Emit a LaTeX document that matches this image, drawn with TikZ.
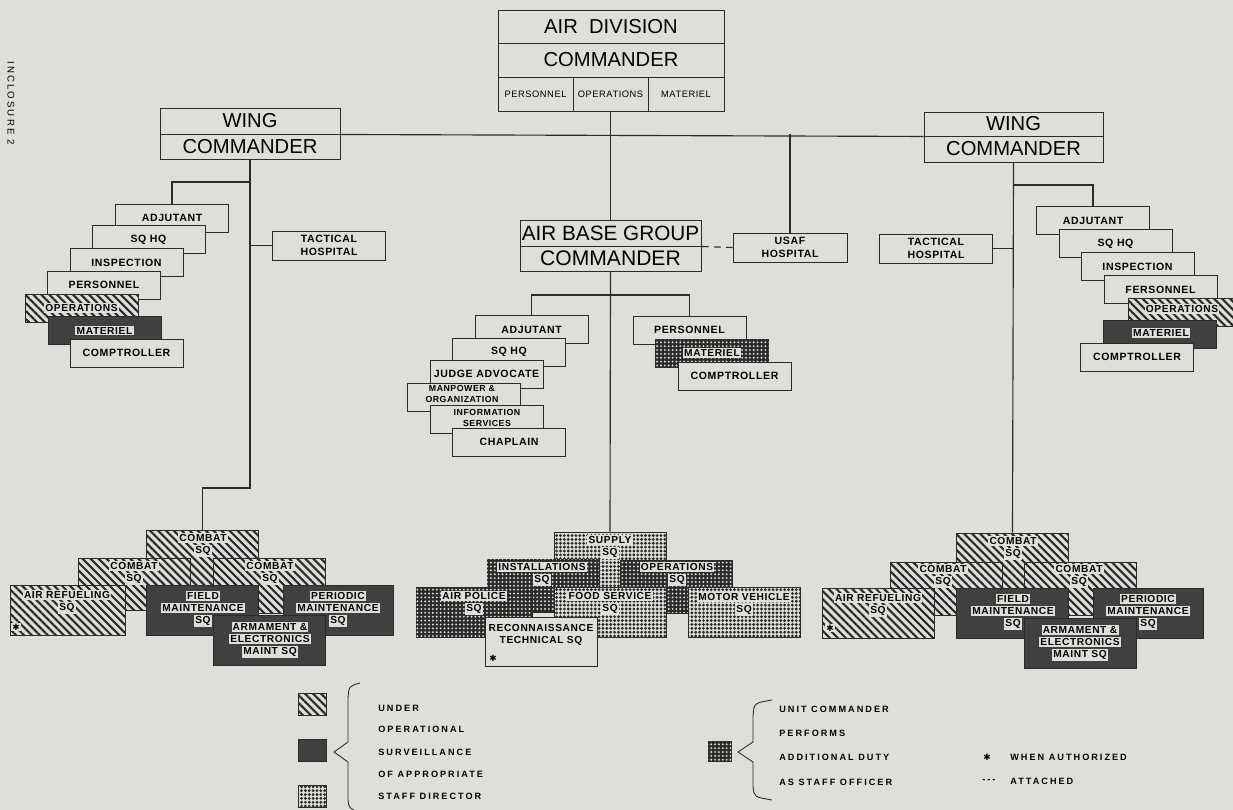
\documentclass[tikz,border=0pt]{standalone}
\usepackage{fontspec}
\setmainfont{Liberation Sans}
\newfontfamily\orgfont{Liberation Sans}[LetterSpace=6]
\newfontfamily\lgfont{Liberation Sans}[LetterSpace=22]
\newfontfamily\symfont{DejaVu Sans}
\usepackage{xcolor}
\usetikzlibrary{patterns.meta,positioning,calc}
\definecolor{paper}{HTML}{DEDEDB}
\definecolor{ink}{HTML}{2B2B2B}
\setlength{\fboxsep}{0.7pt}
\newcommand{\plate}[1]{\colorbox{paper}{#1}}
\tikzset{
  cell/.style={draw=ink, line width=0.55pt, fill=paper, inner sep=0pt, align=center,
    font=\orgfont\bfseries\fontsize{6}{7}\selectfont},
  staffbox/.style={cell, minimum width=2.26cm, minimum height=0.56cm},
  sqbox/.style={minimum width=2.24cm, minimum height=1cm},
  hatchbox/.style={cell, postaction={pattern={Lines[angle=-45,distance=3.2pt,line width=1.2pt]}, pattern color=ink}},
  darkbox/.style={cell, fill=black!75},
  dotbox/.style={cell, postaction={pattern={Dots[distance=2.2pt,radius=0.9pt]}, pattern color=ink}},
  darkdotbox/.style={cell, fill=ink, postaction={pattern={Dots[distance=2.2pt,radius=0.6pt]}, pattern color=paper}},
  sqtext/.style={align=center, inner sep=0pt, font=\orgfont\bfseries\fontsize{5.8}{6.9}\selectfont},
  smalltext/.style={align=center, inner sep=0pt, font=\orgfont\bfseries\fontsize{5}{6}\selectfont},
  subtext/.style={font=\orgfont\fontsize{5.3}{6}\selectfont},
  bigtext/.style={font=\fontsize{11.5}{12}\selectfont},
  startext/.style={inner sep=0pt, font=\symfont\fontsize{5}{5}\selectfont},
  legtext/.style={anchor=west, inner sep=0pt, font=\lgfont\bfseries\fontsize{5.2}{6}\selectfont},
  link/.style={draw=ink, line width=0.65pt}
}
\begin{document}
\begin{tikzpicture}[x=0.02cm, y=-0.02cm]
  \fill[paper] (0,0) rectangle (1233,810);
  \useasboundingbox (0,0) rectangle (1233,810);
  \node[rotate=-90, inner sep=0pt, font=\lgfont\fontsize{5.5}{6}\selectfont] (incl) at (11,103) {INCLOSURE 2};

  % top of the chart
  \node[cell, bigtext, minimum width=4.52cm, minimum height=0.66cm] (adivA) at (611,26.5) {AIR \ DIVISION};
  \node[cell, bigtext, minimum width=4.52cm, minimum height=0.68cm] (adivB) at (611,60) {COMMANDER};
  \node[cell, subtext, minimum width=1.5cm, minimum height=0.68cm] (adper) at (535.5,94) {PERSONNEL};
  \node[cell, subtext, minimum width=1.5cm, minimum height=0.68cm] (adops) at (610.5,94) {OPERATIONS};
  \node[cell, subtext, minimum width=1.52cm, minimum height=0.68cm] (admat) at (686,94) {MATERIEL};

  \node[cell, bigtext, minimum width=3.6cm, minimum height=0.52cm] (lwingA) at (250,121) {WING};
  \node[cell, bigtext, minimum width=3.6cm, minimum height=0.5cm] (lwingB) at (250,146.5) {COMMANDER};
  \node[cell, bigtext, minimum width=3.58cm, minimum height=0.48cm] (rwingA) at (1013.5,124) {WING};
  \node[cell, bigtext, minimum width=3.58cm, minimum height=0.52cm] (rwingB) at (1013.5,149) {COMMANDER};

  \node[cell, font=\fontsize{11.8}{13}\selectfont, minimum width=3.62cm, minimum height=0.52cm] (abgA) at (610.5,233) {AIR BASE GROUP};
  \node[cell, font=\fontsize{12}{13}\selectfont, minimum width=3.62cm, minimum height=0.5cm] (abgB) at (610.5,258.5) {COMMANDER};
  \node[staffbox, minimum width=2.28cm, minimum height=0.58cm] (usaf) at (790,247.5) {USAF\\HOSPITAL};

  % left wing staff
  \node[staffbox] (ladj) at (172,218) {ADJUTANT};
  \node[staffbox] (lsq) at (148.5,239.5) {SQ HQ};
  \node[staffbox] (linsp) at (126.5,262.5) {INSPECTION};
  \node[staffbox] (lpers) at (104,285) {PERSONNEL};
  \node[staffbox, hatchbox] (lops) at (81.5,308) {};
  \node[sqtext] (lopsT) at (lops.center) {\plate{OPERATIONS}};
  \node[staffbox, darkbox] (lmat) at (104.5,330.5) {};
  \node[sqtext] (lmatT) at (lmat.center) {\plate{MATERIEL}};
  \node[staffbox] (lcomp) at (126.5,353) {COMPTROLLER};
  \node[staffbox, minimum height=0.58cm] (ltac) at (329,245.5) {TACTICAL\\HOSPITAL};

  % air base group staff
  \node[staffbox] (cadj) at (531.5,329.5) {ADJUTANT};
  \node[staffbox] (csq) at (509,352) {SQ HQ};
  \node[staffbox] (cjudge) at (486.5,374) {JUDGE ADVOCATE};
  \node[staffbox] (cman) at (464,397) {};
  \node[smalltext] (cmanT) at (462,394) {MANPOWER \&\\ORGANIZATION};
  \node[staffbox] (cinfo) at (486.5,419.5) {};
  \node[smalltext] (cinfoT) at (487,418) {INFORMATION\\SERVICES};
  \node[staffbox] (cchap) at (509,442) {CHAPLAIN};
  \node[staffbox] (cpers) at (689.5,330) {PERSONNEL};
  \node[staffbox, darkdotbox] (cmat) at (712,353) {};
  \node[sqtext] (cmatT) at (cmat.center) {\plate{MATERIEL}};
  \node[staffbox] (ccomp) at (734.5,376) {COMPTROLLER};

  % right wing staff
  \node[staffbox, minimum height=0.58cm] (rtac) at (936,248.5) {TACTICAL\\HOSPITAL};
  \node[staffbox] (radj) at (1093,220.5) {ADJUTANT};
  \node[staffbox] (rsq) at (1115.5,243.5) {SQ HQ};
  \node[staffbox] (rinsp) at (1137.5,266.5) {INSPECTION};
  \node[staffbox] (rpers) at (1160.5,289.5) {FERSONNEL};
  \node[staffbox, hatchbox] (rops) at (1184.5,312) {};
  \node[sqtext] (ropsT) at (1182,309) {\plate{OPERATIONS}};
  \node[staffbox, darkbox] (rmat) at (1160,334.5) {};
  \node[sqtext] (rmatT) at (1161,333) {\plate{MATERIEL}};
  \node[staffbox] (rcomp) at (1137,357) {COMPTROLLER};

  % left squadrons
  \node[hatchbox, sqbox, minimum height=1.2cm] (lcmbA) at (202.5,560) {};
  \node[sqtext] (lcmbAT) at (203,545) {\plate{COMBAT}\\\plate{SQ}};
  \node[hatchbox, sqbox, minimum height=1.04cm] (lcmbB) at (134,584) {};
  \node[sqtext] (lcmbBT) at (134,573) {\plate{COMBAT}\\\plate{SQ}};
  \node[hatchbox, sqbox, minimum height=1.1cm] (lcmbC) at (269.5,585.5) {};
  \node[sqtext] (lcmbCT) at (270,573) {\plate{COMBAT}\\\plate{SQ}};
  \node[hatchbox, sqbox, minimum width=2.3cm] (lref) at (67.5,610) {};
  \node[sqtext] (lrefT) at (67,602) {\plate{AIR REFUELING}\\\plate{SQ}};
  \node[startext] (lrefS) at (16,627) {\plate{✱}};
  \node[darkbox, sqbox] (lfld) at (202.5,610) {};
  \node[sqtext] (lfldT) at (203,609) {\plate{FIELD}\\\plate{MAINTENANCE}\\\plate{SQ}};
  \node[darkbox, sqbox, minimum width=2.2cm] (lper) at (338,610) {};
  \node[sqtext] (lperT) at (338,609) {\plate{PERIODIC}\\\plate{MAINTENANCE}\\\plate{SQ}};
  \node[darkbox, sqbox] (larm) at (269.5,640) {};
  \node[sqtext] (larmT) at (270,640) {\plate{ARMAMENT \&}\\\plate{ELECTRONICS}\\\plate{MAINT SQ}};

  % air base squadrons
  \node[dotbox, sqbox, minimum height=1.16cm] (supA) at (610,561) {};
  \node[sqtext] (supT) at (610,547) {\plate{SUPPLY}\\\plate{SQ}};
  \node[darkdotbox, sqbox, minimum height=1.06cm] (inst) at (543,585.5) {};
  \node[sqtext] (instT) at (542,574) {\plate{INSTALLATIONS}\\\plate{SQ}};
  \node[darkdotbox, sqbox, minimum height=1.06cm] (cops) at (676.5,586.5) {};
  \node[sqtext] (copsT) at (677,574) {\plate{OPERATIONS}\\\plate{SQ}};
  \node[darkdotbox, sqbox, minimum width=2.32cm] (apol) at (474,612) {};
  \node[sqtext] (apolT) at (474,603) {\plate{AIR POLICE}\\\plate{SQ}};
  \node[dotbox, sqbox] (food) at (610,612) {};
  \node[sqtext] (foodT) at (610,603) {\plate{FOOD SERVICE}\\\plate{SQ}};
  \node[dotbox, sqbox] (motor) at (744,612) {};
  \node[sqtext] (motorT) at (744,604) {\plate{MOTOR VEHICLE}\\\plate{SQ}};
  \node[cell, sqbox, minimum height=0.98cm] (recon) at (541.5,641.5) {};
  \node[sqtext] (reconT) at (541,635) {RECONNAISSANCE\\TECHNICAL SQ};
  \node[startext] (reconS) at (493,658) {✱};

  % right squadrons
  \node[hatchbox, sqbox, minimum height=1.18cm] (rcmbA) at (1012.5,562.5) {};
  \node[sqtext] (rcmbAT) at (1013,548) {\plate{COMBAT}\\\plate{SQ}};
  \node[hatchbox, sqbox, minimum height=1.06cm] (rcmbB) at (946,588.5) {};
  \node[sqtext] (rcmbBT) at (943,576) {\plate{COMBAT}\\\plate{SQ}};
  \node[hatchbox, sqbox, minimum height=1.06cm] (rcmbC) at (1080,588.5) {};
  \node[sqtext] (rcmbCT) at (1079,576) {\plate{COMBAT}\\\plate{SQ}};
  \node[hatchbox, sqbox] (rref) at (878,613) {};
  \node[sqtext] (rrefT) at (878,605) {\plate{AIR REFUELING}\\\plate{SQ}};
  \node[startext] (rrefS) at (830,628) {\plate{✱}};
  \node[darkbox, sqbox] (rfld) at (1012.5,613) {};
  \node[sqtext] (rfldT) at (1013,612) {\plate{FIELD}\\\plate{MAINTENANCE}\\\plate{SQ}};
  \node[darkbox, sqbox, minimum width=2.2cm] (rper) at (1148,613) {};
  \node[sqtext] (rperT) at (1148,612) {\plate{PERIODIC}\\\plate{MAINTENANCE}\\\plate{SQ}};
  \node[darkbox, sqbox] (rarm) at (1080,643) {};
  \node[sqtext] (rarmT) at (1080,643) {\plate{ARMAMENT \&}\\\plate{ELECTRONICS}\\\plate{MAINT SQ}};

  % connectors
  \coordinate (lbr) at (250,182);
  \coordinate (ljog) at (250,488);
  \coordinate (cbr) at (610,295);
  \coordinate (rbr) at (1013.5,185);
  \draw[link] (lwingA.south east) -- (rwingA.south west);
  \draw[link] (adops.south) -- (abgA.north);
  \draw[link] (usaf.north) -- (usaf.north |- lwingA.south east);
  \draw[link, dash pattern=on 4pt off 3pt] (abgA.south east) -- (usaf.west);
  \draw[link] (lwingB.south) -- (ljog) -| (lcmbA.north);
  \draw[link] (lbr) -| (ladj.north);
  \draw[link] (ltac.west) -- (ltac.west -| lwingB.south);
  \draw[link] (abgB.south) -- (supA.north);
  \draw[link] (cadj.north) |- (cbr) -| (cpers.north);
  \draw[link] (rwingB.south) -- (rcmbA.north);
  \draw[link] (rbr) -| (radj.north);
  \draw[link] (rtac.east) -- (rtac.east -| rwingB.south);

  % legend
  \node[hatchbox, minimum width=0.56cm, minimum height=0.44cm] (lgHatch) at (312,704) {};
  \node[darkbox, minimum width=0.56cm, minimum height=0.44cm] (lgDark) at (312,750.5) {};
  \node[dotbox, minimum width=0.56cm, minimum height=0.44cm] (lgDots) at (312,796) {};
  \draw[link, line width=0.5pt] (360,683) .. controls (349,686) .. (348,698) -- (348,742) -- (334,752) -- (348,762) -- (348,800) .. controls (349,808) .. (358,812);
  \node[legtext] (lgA) at (378,708) {UNDER};
  \node[legtext] (lgB) at (378,729) {OPERATIONAL};
  \node[legtext] (lgC) at (378,752) {SURVEILLANCE};
  \node[legtext] (lgD) at (378,774) {OF APPROPRIATE};
  \node[legtext] (lgE) at (378,796) {STAFF DIRECTOR};

  \node[darkdotbox, minimum width=0.46cm, minimum height=0.4cm] (lgDD) at (719.5,751) {};
  \draw[link, line width=0.5pt] (772,700) .. controls (754,703) .. (753,716) -- (753,742) -- (738,752) -- (753,762) -- (753,786) .. controls (754,797) .. (772,800);
  \node[legtext] (lgF) at (779,709) {UNIT COMMANDER};
  \node[legtext] (lgG) at (779,733) {PERFORMS};
  \node[legtext] (lgH) at (779,757) {ADDITIONAL DUTY};
  \node[legtext] (lgI) at (779,782) {AS STAFF OFFICER};
  \node[startext] (lgStar) at (987,757) {✱};
  \node[legtext] (lgJ) at (1010,757) {WHEN AUTHORIZED};
  \node[legtext] (lgDash) at (982,781) {-{}-{}-};
  \node[legtext] (lgK) at (1010,781) {ATTACHED};
\end{tikzpicture}
\end{document}
